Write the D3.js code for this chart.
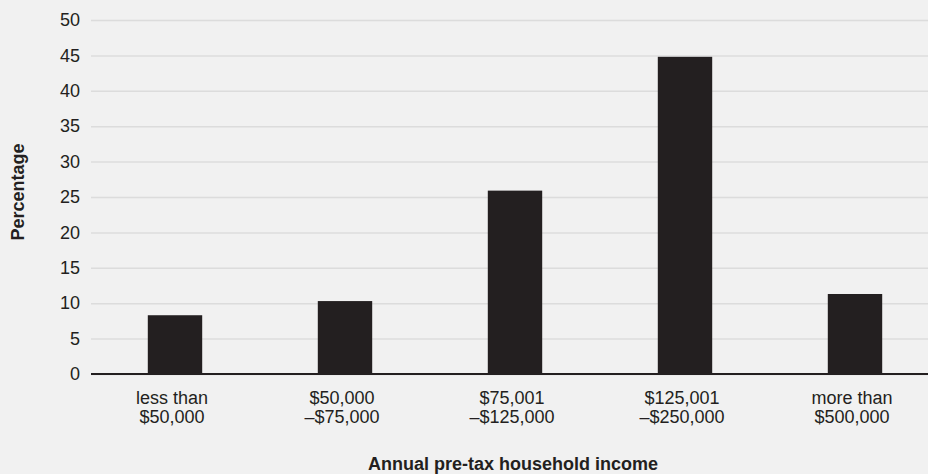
<!DOCTYPE html>
<html>
<head>
<meta charset="utf-8">
<script src="https://cdn.jsdelivr.net/npm/d3@7"></script>
<style>
  body { margin: 0; background: #f1f1f1; }
  text { font-family: "Liberation Sans", Arial, Helvetica, sans-serif; fill: #231f20; }
</style>
</head>
<body>
<div id="chart"></div>
<script>
// data
const categories = ["less than|$50,000", "$50,000|\u2013$75,000", "$75,001|\u2013$125,000", "$125,001|\u2013$250,000", "more than|$500,000"];
const percentages = [8.3, 10.3, 25.9, 44.8, 11.3];
const yTicks = [0, 5, 10, 15, 20, 25, 30, 35, 40, 45, 50];

const W = 928, H = 474;
const margin = {top: 20, right: 0, bottom: 100, left: 91};

const svg = d3.select("#chart")
    .append("svg")
    .attr("width", W)
    .attr("height", H);

svg.append("rect")
    .attr("width", W)
    .attr("height", H)
    .attr("fill", "#f1f1f1");

// scales
const x = d3.scaleBand()
    .domain(categories)
    .range([margin.left - 1, margin.left - 1 + 170 * categories.length])
    .paddingInner(0.68)
    .paddingOuter(0.34);

const y = d3.scaleLinear()
    .domain([0, 50])
    .range([374, margin.top]);

// gridlines + y labels
const yAxis = svg.append("g")
    .attr("transform", `translate(${margin.left},0)`)
    .call(d3.axisLeft(y).tickValues(yTicks).tickSize(-(W - margin.left)).tickPadding(11))
    .call(g => g.select(".domain").remove());

yAxis.selectAll(".tick line")
    .attr("stroke", "#dcdcdc")
    .attr("stroke-width", 1.5);

yAxis.selectAll(".tick text")
    .style("font-size", "18px")
    .attr("fill", "#231f20");

// bars
svg.selectAll("rect.bar")
    .data(percentages)
    .join("rect")
    .attr("class", "bar")
    .attr("x", (d, i) => x(categories[i]))
    .attr("y", d => y(d))
    .attr("width", x.bandwidth())
    .attr("height", d => y(0) - y(d))
    .attr("fill", "#231f20");

// baseline
svg.append("line")
    .attr("x1", margin.left)
    .attr("x2", W)
    .attr("y1", y(0))
    .attr("y2", y(0))
    .attr("stroke", "#231f20")
    .attr("stroke-width", 2);

// category labels (two lines each)
const labels = svg.selectAll("text.cat")
    .data(categories)
    .join("text")
    .attr("class", "cat")
    .attr("text-anchor", "middle")
    .style("font-size", "18px")
    .attr("transform", d => `translate(${x(d) + x.bandwidth() / 2 - 3},404)`);

labels.selectAll("tspan")
    .data(d => d.split("|"))
    .join("tspan")
    .attr("x", 0)
    .attr("y", (d, i) => i * 18.5)
    .text(d => d);

// axis titles
svg.append("text")
    .attr("x", 513)
    .attr("y", 470)
    .attr("text-anchor", "middle")
    .style("font-size", "18px")
    .style("font-weight", "bold")
    .text("Annual pre-tax household income");

svg.append("text")
    .attr("transform", "translate(24,192) rotate(-90)")
    .attr("text-anchor", "middle")
    .style("font-size", "18px")
    .style("font-weight", "bold")
    .text("Percentage");
</script>
</body>
</html>
